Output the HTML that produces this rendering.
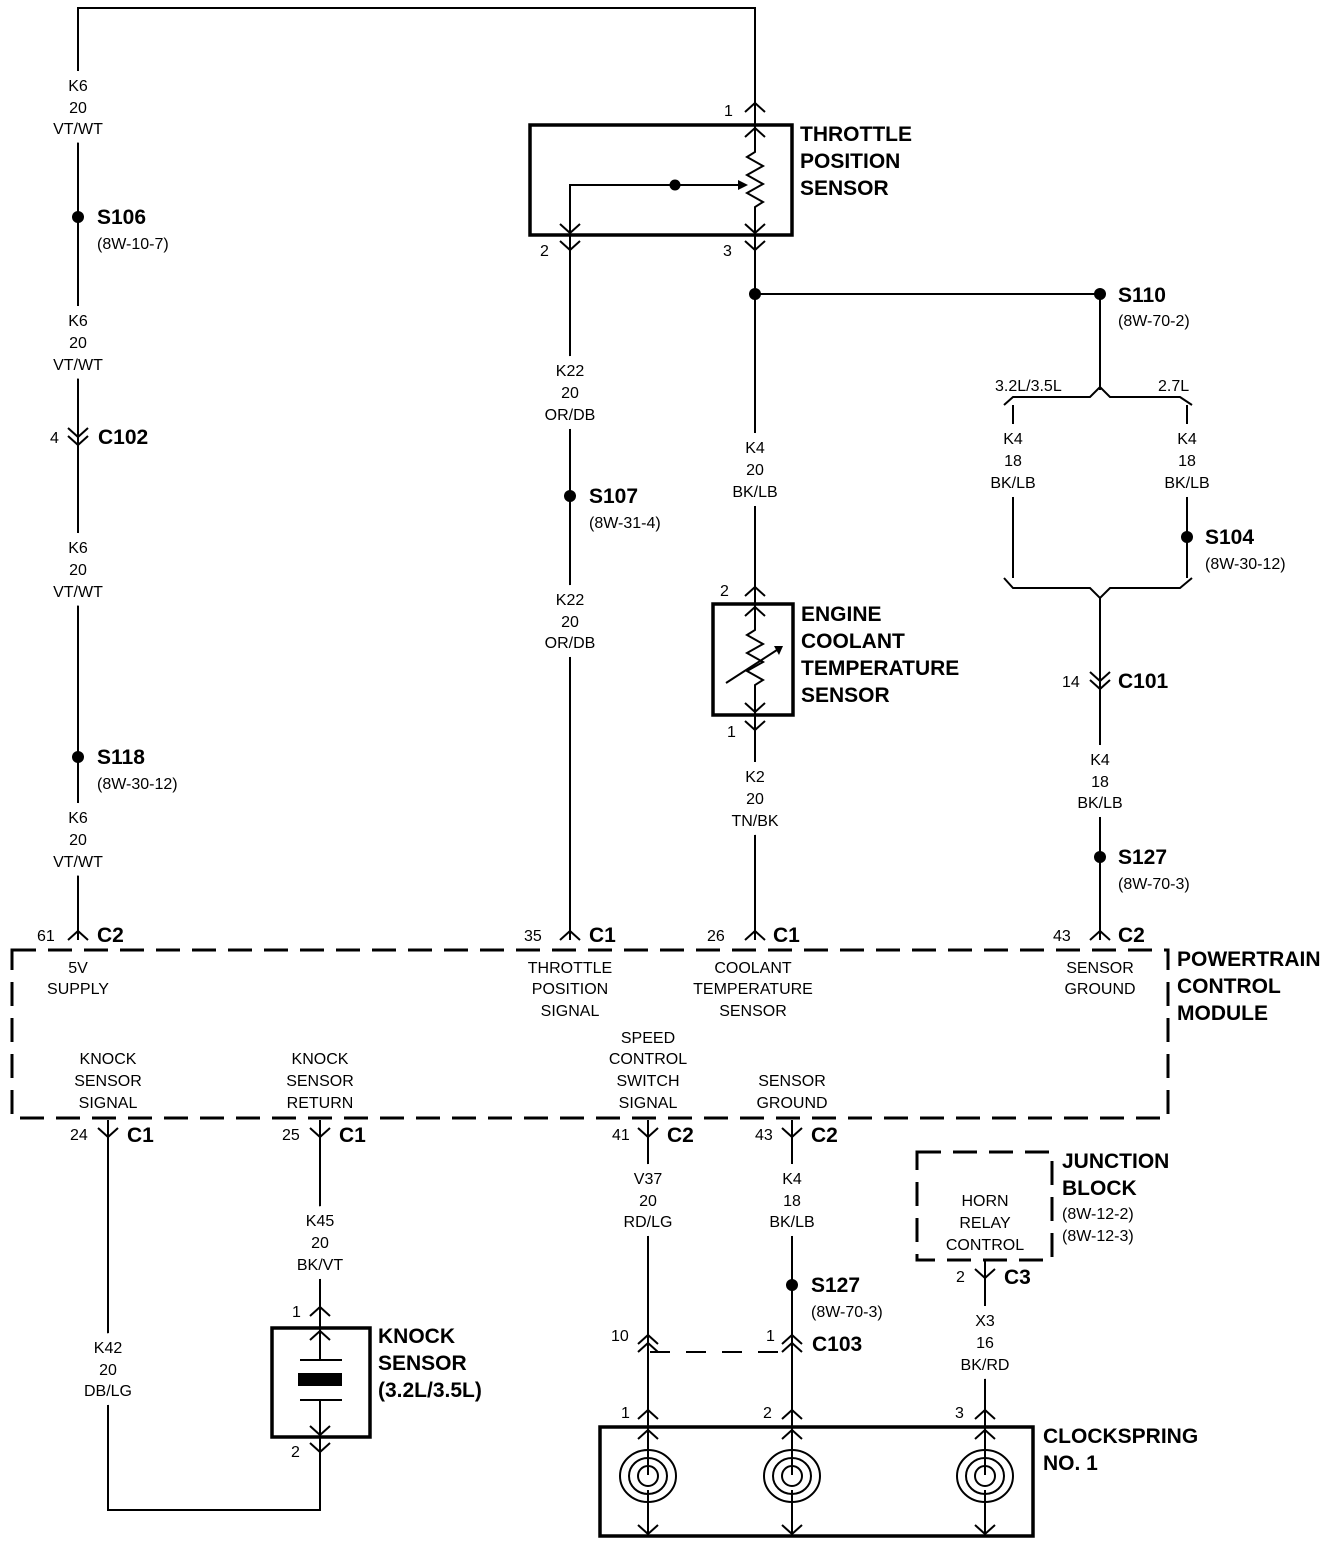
<!DOCTYPE html>
<html><head><meta charset="utf-8"><style>
html,body{margin:0;padding:0;background:#fff;}
svg{display:block;}
text{font-family:"Liberation Sans",Arial,sans-serif;fill:#000;}
.l{font-size:16px;text-anchor:middle;paint-order:stroke;stroke:#fff;stroke-width:18px;stroke-linejoin:round;}
.s{font-size:16px;}
.b{font-size:21px;font-weight:bold;}
.w{stroke:#000;stroke-width:2;fill:none;}
.bx{stroke:#000;stroke-width:3.5;fill:none;}
.d{stroke:#000;stroke-width:3;fill:none;stroke-dasharray:24 12;}
</style></head><body>
<svg width="1344" height="1546" viewBox="0 0 1344 1546" xmlns="http://www.w3.org/2000/svg">
<defs>
<path id="up" d="M-10,9 L0,0 L10,9" stroke="#000" stroke-width="2" fill="none"/>
<path id="dn" d="M-10,-9 L0,0 L10,-9" stroke="#000" stroke-width="2" fill="none"/>
</defs>

<!-- wires -->
<path class="w" d="M78,940 V8 H755 V125"/>
<path class="w" d="M570,235 V940"/>
<path class="w" d="M755,235 V604"/>
<path class="w" d="M755,294 H1100 V390"/>
<path class="w" d="M755,715 V940"/>
<path class="w" d="M1100,598 V940"/>
<path class="w" d="M1013,405 V578"/>
<path class="w" d="M1187,405 V578"/>
<path class="w" d="M1004,405 L1013,397 H1090 L1100,387 L1110,397 H1180 L1192,405"/>
<path class="w" d="M1004,578 L1013,588 H1090 L1100,598 L1110,588 H1180 L1192,578"/>
<path class="w" d="M108,1120 V1510 H320 V1437"/>
<path class="w" d="M320,1120 V1328"/>
<path class="w" d="M648,1120 V1427"/>
<path class="w" d="M792,1120 V1427"/>
<path class="w" d="M985,1260 V1427"/>
<path d="M650,1352 H790" stroke="#000" stroke-width="2" stroke-dasharray="20 16" fill="none"/>

<!-- TPS -->
<rect class="bx" x="530" y="125" width="262" height="110"/>
<path class="w" d="M755,125 V152 L747,157 L763,166 L747,175 L763,184 L747,193 L763,202 L755,207 V235"/>
<path class="w" d="M570,235 V185 H738"/>
<path d="M738,180 L748,185 L738,190Z" fill="#000"/>
<circle cx="675" cy="185" r="5.5" fill="#000"/>
<use href="#up" x="755" y="103"/><use href="#up" x="755" y="128"/>
<use href="#dn" x="570" y="233"/><use href="#dn" x="570" y="250"/>
<use href="#dn" x="755" y="233"/><use href="#dn" x="755" y="250"/>
<text class="s" x="724" y="116">1</text>
<text class="s" x="540" y="256">2</text>
<text class="s" x="723" y="256">3</text>
<text class="b" x="800" y="141">THROTTLE</text>
<text class="b" x="800" y="168">POSITION</text>
<text class="b" x="800" y="195">SENSOR</text>

<!-- ECT -->
<rect class="bx" x="713" y="604" width="80" height="111"/>
<path class="w" d="M755,604 V630 L747,635 L763,644 L747,653 L763,662 L747,671 L763,680 L755,685 V715"/>
<path class="w" d="M726,683 L780,648"/>
<path d="M774,646 L783,646 L779,655Z" fill="#000"/>
<use href="#up" x="755" y="587"/><use href="#up" x="755" y="607"/>
<use href="#dn" x="755" y="712"/><use href="#dn" x="755" y="730"/>
<text class="s" x="720" y="596">2</text>
<text class="s" x="727" y="737">1</text>
<text class="b" x="801" y="621">ENGINE</text>
<text class="b" x="801" y="648">COOLANT</text>
<text class="b" x="801" y="675">TEMPERATURE</text>
<text class="b" x="801" y="702">SENSOR</text>

<!-- splices -->
<circle cx="78" cy="217" r="6" fill="#000"/>
<circle cx="78" cy="757" r="6" fill="#000"/>
<circle cx="570" cy="496" r="6" fill="#000"/>
<circle cx="755" cy="294" r="6" fill="#000"/>
<circle cx="1100" cy="294" r="6" fill="#000"/>
<circle cx="1187" cy="537" r="6" fill="#000"/>
<circle cx="1100" cy="857" r="6" fill="#000"/>
<circle cx="792" cy="1285" r="6" fill="#000"/>

<text class="b" x="97" y="224">S106</text><text class="s" x="97" y="249">(8W-10-7)</text>
<text class="b" x="97" y="764">S118</text><text class="s" x="97" y="789">(8W-30-12)</text>
<text class="b" x="589" y="503">S107</text><text class="s" x="589" y="528">(8W-31-4)</text>
<text class="b" x="1118" y="302">S110</text><text class="s" x="1118" y="326">(8W-70-2)</text>
<text class="b" x="1205" y="544">S104</text><text class="s" x="1205" y="569">(8W-30-12)</text>
<text class="b" x="1118" y="864">S127</text><text class="s" x="1118" y="889">(8W-70-3)</text>
<text class="b" x="811" y="1292">S127</text><text class="s" x="811" y="1317">(8W-70-3)</text>

<!-- inline connectors -->
<use href="#dn" x="78" y="437"/><use href="#dn" x="78" y="445"/>
<text class="s" x="50" y="443">4</text><text class="b" x="98" y="444">C102</text>
<use href="#dn" x="1100" y="681"/><use href="#dn" x="1100" y="689"/>
<text class="s" x="1062" y="687">14</text><text class="b" x="1118" y="688">C101</text>
<use href="#up" x="648" y="1335"/><use href="#up" x="648" y="1343"/>
<text class="s" x="611" y="1341">10</text>
<use href="#up" x="792" y="1335"/><use href="#up" x="792" y="1343"/>
<text class="s" x="766" y="1341">1</text><text class="b" x="812" y="1351">C103</text>

<!-- wire labels -->
<text class="l" x="78" y="91">K6</text><text class="l" x="78" y="113">20</text><text class="l" x="78" y="134">VT/WT</text>
<text class="l" x="78" y="326">K6</text><text class="l" x="78" y="348">20</text><text class="l" x="78" y="370">VT/WT</text>
<text class="l" x="78" y="553">K6</text><text class="l" x="78" y="575">20</text><text class="l" x="78" y="597">VT/WT</text>
<text class="l" x="78" y="823">K6</text><text class="l" x="78" y="845">20</text><text class="l" x="78" y="867">VT/WT</text>
<text class="l" x="570" y="376">K22</text><text class="l" x="570" y="398">20</text><text class="l" x="570" y="420">OR/DB</text>
<text class="l" x="570" y="605">K22</text><text class="l" x="570" y="627">20</text><text class="l" x="570" y="648">OR/DB</text>
<text class="l" x="755" y="453">K4</text><text class="l" x="755" y="475">20</text><text class="l" x="755" y="497">BK/LB</text>
<text class="l" x="755" y="782">K2</text><text class="l" x="755" y="804">20</text><text class="l" x="755" y="826">TN/BK</text>
<text class="s" x="995" y="391">3.2L/3.5L</text><text class="s" x="1158" y="391">2.7L</text>
<text class="l" x="1013" y="444">K4</text><text class="l" x="1013" y="466">18</text><text class="l" x="1013" y="488">BK/LB</text>
<text class="l" x="1187" y="444">K4</text><text class="l" x="1187" y="466">18</text><text class="l" x="1187" y="488">BK/LB</text>
<text class="l" x="1100" y="765">K4</text><text class="l" x="1100" y="787">18</text><text class="l" x="1100" y="808">BK/LB</text>
<text class="l" x="108" y="1353">K42</text><text class="l" x="108" y="1375">20</text><text class="l" x="108" y="1396">DB/LG</text>
<text class="l" x="320" y="1226">K45</text><text class="l" x="320" y="1248">20</text><text class="l" x="320" y="1270">BK/VT</text>
<text class="l" x="648" y="1184">V37</text><text class="l" x="648" y="1206">20</text><text class="l" x="648" y="1227">RD/LG</text>
<text class="l" x="792" y="1184">K4</text><text class="l" x="792" y="1206">18</text><text class="l" x="792" y="1227">BK/LB</text>
<text class="l" x="985" y="1326">X3</text><text class="l" x="985" y="1348">16</text><text class="l" x="985" y="1370">BK/RD</text>

<!-- PCM -->
<rect class="d" x="12" y="950" width="1156" height="168"/>
<use href="#up" x="78" y="931"/><text class="s" x="37" y="941">61</text><text class="b" x="97" y="942">C2</text>
<use href="#up" x="570" y="931"/><text class="s" x="524" y="941">35</text><text class="b" x="589" y="942">C1</text>
<use href="#up" x="755" y="931"/><text class="s" x="707" y="941">26</text><text class="b" x="773" y="942">C1</text>
<use href="#up" x="1100" y="931"/><text class="s" x="1053" y="941">43</text><text class="b" x="1118" y="942">C2</text>
<use href="#dn" x="108" y="1137"/><text class="s" x="70" y="1140">24</text><text class="b" x="127" y="1142">C1</text>
<use href="#dn" x="320" y="1137"/><text class="s" x="282" y="1140">25</text><text class="b" x="339" y="1142">C1</text>
<use href="#dn" x="648" y="1137"/><text class="s" x="612" y="1140">41</text><text class="b" x="667" y="1142">C2</text>
<use href="#dn" x="792" y="1137"/><text class="s" x="755" y="1140">43</text><text class="b" x="811" y="1142">C2</text>
<g class="s" text-anchor="middle">
<text x="78" y="973">5V</text><text x="78" y="994">SUPPLY</text>
<text x="570" y="973">THROTTLE</text><text x="570" y="994">POSITION</text><text x="570" y="1016">SIGNAL</text>
<text x="753" y="973">COOLANT</text><text x="753" y="994">TEMPERATURE</text><text x="753" y="1016">SENSOR</text>
<text x="1100" y="973">SENSOR</text><text x="1100" y="994">GROUND</text>
<text x="108" y="1064">KNOCK</text><text x="108" y="1086">SENSOR</text><text x="108" y="1108">SIGNAL</text>
<text x="320" y="1064">KNOCK</text><text x="320" y="1086">SENSOR</text><text x="320" y="1108">RETURN</text>
<text x="648" y="1043">SPEED</text><text x="648" y="1064">CONTROL</text><text x="648" y="1086">SWITCH</text><text x="648" y="1108">SIGNAL</text>
<text x="792" y="1086">SENSOR</text><text x="792" y="1108">GROUND</text>
<text x="985" y="1206">HORN</text><text x="985" y="1228">RELAY</text><text x="985" y="1250">CONTROL</text>
</g>
<text class="b" x="1177" y="966">POWERTRAIN</text>
<text class="b" x="1177" y="993">CONTROL</text>
<text class="b" x="1177" y="1020">MODULE</text>

<!-- knock sensor -->
<rect class="bx" x="272" y="1328" width="98" height="109"/>
<path class="w" d="M320,1328 V1360 M300,1360 H342 M300,1400 H342 M320,1400 V1437"/>
<rect x="298" y="1373" width="44" height="13" fill="#000"/>
<use href="#up" x="320" y="1307"/><use href="#up" x="320" y="1331"/>
<use href="#dn" x="320" y="1435"/><use href="#dn" x="320" y="1452"/>
<text class="s" x="292" y="1317">1</text><text class="s" x="291" y="1457">2</text>
<text class="b" x="378" y="1343">KNOCK</text>
<text class="b" x="378" y="1370">SENSOR</text>
<text class="b" x="378" y="1397">(3.2L/3.5L)</text>

<!-- junction block -->
<rect class="d" x="917" y="1152" width="135" height="108"/>
<use href="#dn" x="985" y="1278"/><text class="s" x="956" y="1282">2</text><text class="b" x="1004" y="1284">C3</text>
<text class="b" x="1062" y="1168">JUNCTION</text>
<text class="b" x="1062" y="1195">BLOCK</text>
<text class="s" x="1062" y="1219">(8W-12-2)</text>
<text class="s" x="1062" y="1241">(8W-12-3)</text>

<!-- clockspring -->
<rect class="bx" x="600" y="1427" width="433" height="109"/>
<g stroke="#000" stroke-width="2" fill="none">
<g id="sp">
<path d="M648,1427 V1475 M648,1490 V1536"/>
<ellipse cx="648" cy="1476" rx="28" ry="26"/>
<ellipse cx="648" cy="1476" rx="19" ry="18"/>
<ellipse cx="648" cy="1476" rx="10" ry="10"/>
</g>
<use href="#sp" x="144"/>
<use href="#sp" x="337"/>
</g>
<use href="#up" x="648" y="1410"/><use href="#up" x="648" y="1430"/><use href="#dn" x="648" y="1534"/>
<use href="#up" x="792" y="1410"/><use href="#up" x="792" y="1430"/><use href="#dn" x="792" y="1534"/>
<use href="#up" x="985" y="1410"/><use href="#up" x="985" y="1430"/><use href="#dn" x="985" y="1534"/>
<text class="s" x="621" y="1418">1</text><text class="s" x="763" y="1418">2</text><text class="s" x="955" y="1418">3</text>
<text class="b" x="1043" y="1443">CLOCKSPRING</text>
<text class="b" x="1043" y="1470">NO. 1</text>
</svg>
</body></html>
